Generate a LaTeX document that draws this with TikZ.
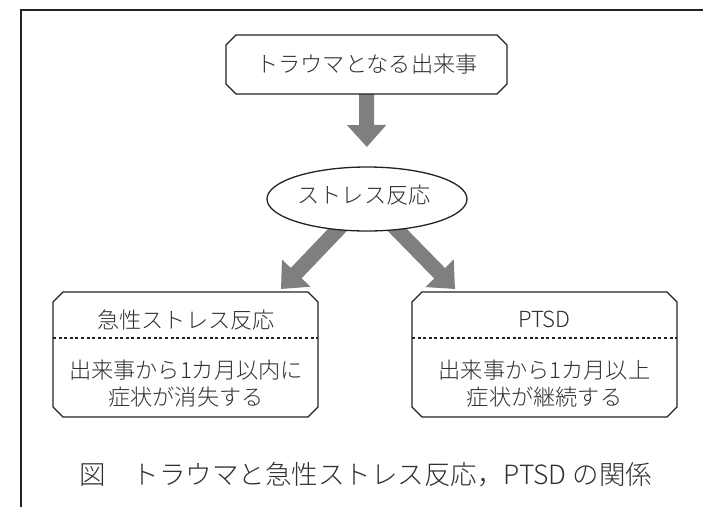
\documentclass[tikz,border=0pt]{standalone}
\usepackage{fontspec}
\IfFontExistsTF{Noto Sans CJK JP Light}{\setmainfont{Noto Sans CJK JP Light}}{\setmainfont{Noto Sans CJK JP}}
\usetikzlibrary{arrows.meta,calc,shapes.geometric}
\pgfdeclarelayer{bg}
\pgfsetlayers{bg,main}
\definecolor{ink}{HTML}{222222}
\definecolor{txt}{HTML}{303030}
\definecolor{arr}{HTML}{7F7F81}
\newcommand\chamfbox[1]{%
  \draw[boxline] ($(#1.north west)+(10,0)$) -- ($(#1.north east)+(-10,0)$)
    -- ($(#1.north east)+(0,10)$) -- ($(#1.south east)+(0,-10)$)
    -- ($(#1.south east)+(-10,0)$) -- ($(#1.south west)+(10,0)$)
    -- ($(#1.south west)+(0,-10)$) -- ($(#1.north west)+(0,10)$) -- cycle;}
\begin{document}
\begin{tikzpicture}[x=1pt,y=-1pt,
  boxarea/.style={rectangle,inner sep=0pt,outer sep=0pt},
  boxline/.style={draw=ink,line width=1.3pt,line join=miter},
  frameline/.style={draw=ink,line width=1.4pt},
  dashline/.style={draw=ink,line width=1.2pt,dash pattern=on 3pt off 2.6pt},
  lbl/.style={text=txt,inner sep=0pt,anchor=base,font=\fontsize{22.2}{26}\selectfont},
  captext/.style={text=txt,inner sep=0pt,anchor=base,font=\fontsize{26.5}{32}\selectfont},
  bigarrow/.style={draw=arr,line width=15pt,line cap=butt,-{Triangle[length=22pt,width=38pt]}},
]
\useasboundingbox (0,0) rectangle (703,507);
\draw[frameline] (703,10) -- (21,10) -- (21,507);

% boxes
\node[boxarea,minimum width=281pt,minimum height=59pt] (top) at (366.5,64.5) {};
\chamfbox{top}
\node[lbl] (toptxt) at (367,72.5) {トラウマとなる出来事};

\node[ellipse,draw=ink,line width=1.3pt,fill=white,minimum width=200pt,minimum height=64pt,inner sep=0pt,outer sep=0pt] (ell) at (367,199) {};
\node[lbl] (elltxt) at (364,203) {ストレス反応};

\node[boxarea,minimum width=265pt,minimum height=125pt] (lbox) at (185.5,354.5) {};
\chamfbox{lbox}
\draw[dashline] ($(lbox.north west)+(0,46)$) -- ($(lbox.north east)+(0,46)$);
\node[lbl] (lt1) at (186,328) {急性ストレス反応};
\node[lbl] (lt2) at (186,378) {出来事から1カ月以内に};
\node[lbl] (lt3) at (186,405) {症状が消失する};

\node[boxarea,minimum width=265pt,minimum height=125pt] (rbox) at (544.5,354.5) {};
\chamfbox{rbox}
\draw[dashline] ($(rbox.north west)+(0,46)$) -- ($(rbox.north east)+(0,46)$);
\node[lbl] (rt1) at (544.5,327) {PTSD};
\node[lbl] (rt2) at (544.5,378) {出来事から1カ月以上};
\node[lbl] (rt3) at (544.5,405) {症状が継続する};

% caption
\node[captext] (caption) at (366,484) {図\quad トラウマと急性ストレス反応，PTSD の関係};

% arrows
\coordinate (ltip) at ($(lbox.north east)+(-37,-3)$);
\coordinate (rtip) at ($(rbox.north west)+(43,-3)$);
\begin{pgfonlayer}{bg}
\fill[white] (0,0) rectangle (703,507);
\draw[bigarrow,shorten >=20pt] (top.south) -- (ell.north);
\draw[bigarrow] (ell.center) -- (ltip);
\draw[bigarrow] (ell.center) -- (rtip);
\end{pgfonlayer}
\end{tikzpicture}
\end{document}
